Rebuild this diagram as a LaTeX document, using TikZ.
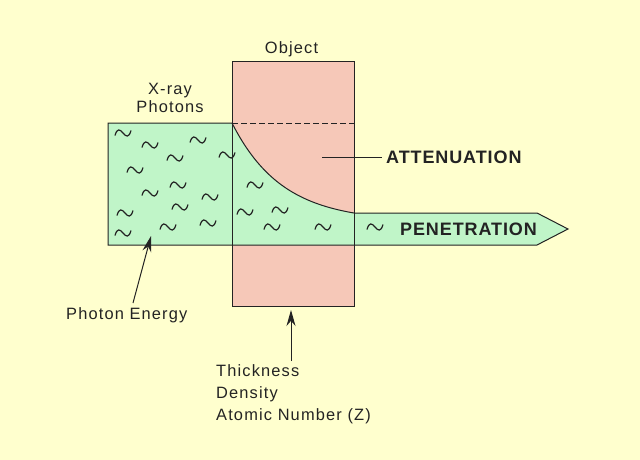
\documentclass[tikz,border=0pt]{standalone}
\usepackage{fontspec}
\setmainfont{Liberation Sans}
\newfontfamily\labfont[LetterSpace=7]{Liberation Sans}
\newfontfamily\boldlabfont[LetterSpace=5]{Liberation Sans Bold}
\usetikzlibrary{arrows.meta}
\definecolor{bg}{RGB}{255,255,206}
\definecolor{mint}{RGB}{192,245,200}
\definecolor{salmon}{RGB}{246,200,184}
\definecolor{ink}{RGB}{35,35,35}
\begin{document}
\begin{tikzpicture}[x=1pt,y=-1pt,
  outline/.style={draw=ink,line width=1pt},
  lbl/.style={text=ink,font=\labfont\fontsize{16.4}{18}\selectfont,inner sep=0pt,anchor=base},
  lblw/.style={text=ink,font=\labfont\fontsize{16.4}{18}\selectfont,inner sep=0pt,anchor=base west},
  blbl/.style={text=ink,font=\boldlabfont\fontsize{18}{20}\selectfont,inner sep=0pt,anchor=base west},
  pointer/.style={draw=ink,line width=1pt,-{Stealth[length=16pt,width=9pt]}},
  tl/.pic={\draw[ink,line width=1.2pt] (-8,2.5) .. controls (-6,-5) and (-3,-4) .. (0,0) .. controls (3,4) and (6,5) .. (8,-2.5);}
]
\fill[bg] (0,0) rectangle (640,460);
\useasboundingbox (0,0) rectangle (640,460);
% fills
\fill[salmon] (232,62) rectangle (354,306);
\fill[mint] (108,123) rectangle (232,245);
\fill[mint] (232,123) -- plot[domain=0:122,samples=80] ({232+\x},{123+90*(1-exp(-0.02*\x))/0.9128}) -- (354,245) -- (232,245) -- cycle;
\fill[mint] (354,213) -- (537,213) -- (568,229) -- (537,245) -- (354,245) -- cycle;
% outlines
\draw[outline] (232,62) rectangle (354,306);
\draw[outline] (232,123) -- (108,123) -- (108,245) -- (537,245) -- (568,229) -- (537,213) -- (354,213);
\draw[outline,dash pattern=on 6pt off 3pt] (232,123) -- (354,123);
\draw[outline] plot[domain=0:122,samples=80] ({232+\x},{123+90*(1-exp(-0.02*\x))/0.9128});
% tildes
\foreach \p in {(123,133),(150,145),(198,140),(175,158),(227,155),(135,170),(150,193),(178,185),(210,197),(255,185),(125,213),(180,207),(245,212),(280,210),(123,233),(168,227),(208,223),(272,227),(323,227),(375,227)}
  \pic at \p {tl};
% labels
\node[lbl] (obj) at (291.5,53.5) {Object};
\node[lbl] (xr) at (170,95) {X-ray};
\node[lbl] (ph) at (170,113) {Photons};
\node[blbl] (att) at (386,163.5) {ATTENUATION};
\node[blbl] (pen) at (400,235) {PENETRATION};
\node[lblw] (pe) at (66,319) {Photon Energy};
\node[lblw] (th) at (216,376) {Thickness};
\node[lblw] (de) at (216,398) {Density};
\node[lblw] (at) at (216,420) {Atomic Number (Z)};
% connectors
\coordinate (attl) at (322,157);
\coordinate (pes) at (133,303);
\coordinate (pet) at (151,236);
\coordinate (ths) at (291,361);
\coordinate (tht) at (291,310);
\draw[outline] (attl) -- ([xshift=-4pt]att.west |- attl);
\draw[pointer] (pes) -- (pet);
\draw[pointer] (ths) -- (tht);
\end{tikzpicture}
\end{document}
